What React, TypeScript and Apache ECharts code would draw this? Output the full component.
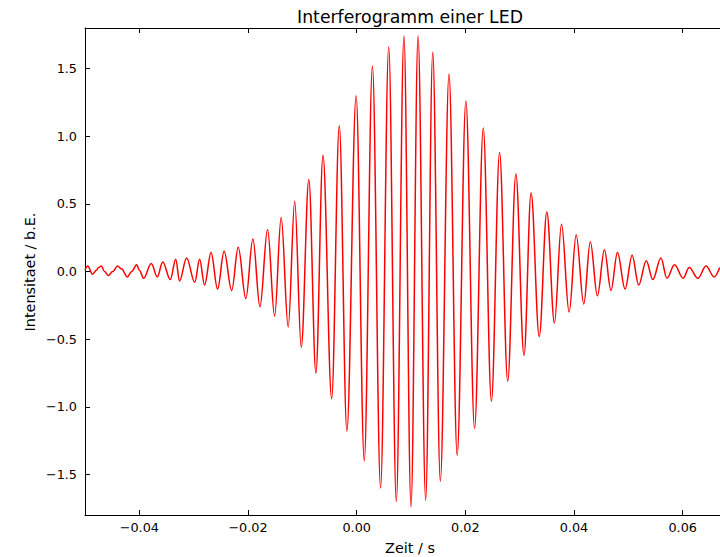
import React, { useEffect, useRef } from 'react';
import * as echarts from 'echarts';

// Zeit (s) of each turning point
const timeS = [
  -0.0500, -0.0495, -0.0486, -0.0479, -0.0475, -0.0470, -0.0464, -0.0457, -0.0449, -0.0440,
  -0.0433, -0.0422, -0.0414, -0.0405, -0.0400, -0.0392, -0.0378, -0.0367, -0.0357, -0.0343,
  -0.0333, -0.0326, -0.0313, -0.0298, -0.0289, -0.0280, -0.0268, -0.0256, -0.0244, -0.0230,
  -0.0218, -0.0204, -0.0191, -0.0178, -0.0164, -0.0151, -0.0139, -0.0126, -0.0114, -0.0102,
  -0.0088, -0.0075, -0.0062, -0.0046, -0.0032, -0.0018, -0.0001, 0.0014, 0.0029, 0.0044,
  0.0059, 0.0073, 0.0087, 0.0100, 0.0113, 0.0127, 0.0140, 0.0154, 0.0170, 0.0185,
  0.0201, 0.0217, 0.0233, 0.0248, 0.0263, 0.0278, 0.0293, 0.0308, 0.0321, 0.0336,
  0.0350, 0.0364, 0.0377, 0.0391, 0.0404, 0.0418, 0.0430, 0.0443, 0.0456, 0.0468,
  0.0480, 0.0494, 0.0507, 0.0519, 0.0533, 0.0545, 0.0560, 0.0571, 0.0585, 0.0601,
  0.0612, 0.0628, 0.0643, 0.0658, 0.0668,
];

// Intensitaet (b.E.) at those points
const intensity = [
  0.01, 0.04, -0.02, 0.01, 0.03, 0.04, 0.00, -0.03, 0.00, 0.04,
  0.02, -0.04, 0.00, 0.05, 0.01, -0.05, 0.06, -0.04, 0.07, -0.06,
  0.09, -0.07, 0.10, -0.08, 0.09, -0.10, 0.14, -0.13, 0.15, -0.14,
  0.18, -0.20, 0.24, -0.26, 0.31, -0.33, 0.40, -0.41, 0.52, -0.56,
  0.68, -0.75, 0.86, -0.94, 1.08, -1.18, 1.30, -1.40, 1.52, -1.60,
  1.66, -1.70, 1.74, -1.74, 1.74, -1.69, 1.62, -1.55, 1.46, -1.36,
  1.26, -1.16, 1.06, -0.96, 0.88, -0.81, 0.72, -0.62, 0.58, -0.48,
  0.44, -0.38, 0.35, -0.30, 0.27, -0.24, 0.22, -0.18, 0.16, -0.14,
  0.14, -0.13, 0.12, -0.10, 0.08, -0.06, 0.10, -0.05, 0.05, -0.05,
  0.03, -0.05, 0.04, -0.04, 0.03,
];

const xTicks = [-0.04, -0.02, 0, 0.02, 0.04, 0.06];
const yTicks = [-1.5, -1.0, -0.5, 0, 0.5, 1.0, 1.5];
const titleText = 'Interferogramm einer LED';
const xName = 'Zeit / s';
const yName = 'Intensitaet / b.E.';

const FONT = '"DejaVu Sans", sans-serif';

export default function App() {
  const ref = useRef<HTMLDivElement>(null);

  useEffect(() => {
    if (!ref.current) return;
    document.body.style.overflow = 'hidden';
    const chart = echarts.init(ref.current, null, { renderer: 'svg' });
    const fmt = (v: number, d: number) => (v < 0 ? '\u2212' : '') + Math.abs(v).toFixed(d);
    const data = timeS.map((t, i) => [t, intensity[i]]);

    const lineStyle = { color: '#000', width: 1 };
    const xBase = {
      type: 'value',
      min: -0.05,
      max: 0.07,
      splitLine: { show: false },
      axisLine: { show: true, onZero: false, lineStyle },
      axisTick: { show: true, inside: true, length: 5, customValues: xTicks, lineStyle },
    };
    const yBase = {
      type: 'value',
      min: -1.8,
      max: 1.8,
      splitLine: { show: false },
      axisLine: { show: true, onZero: false, lineStyle },
      axisTick: { show: true, inside: true, length: 5, customValues: yTicks, lineStyle },
    };

    chart.setOption({
      animation: false,
      backgroundColor: '#ffffff',
      grid: { left: 85, top: 28, width: 652, height: 487, containLabel: false },
      xAxis: [
        {
          ...xBase,
          position: 'bottom',
          axisLabel: {
            customValues: xTicks,
            formatter: (v: number) => fmt(v, 2),
            color: '#000',
            fontFamily: FONT,
            fontSize: 12.8,
            margin: 6,
          },
        },
        { ...xBase, position: 'top', axisLabel: { show: false } },
      ],
      yAxis: [
        {
          ...yBase,
          position: 'left',
          axisLabel: {
            customValues: yTicks,
            formatter: (v: number) => fmt(v, 1),
            color: '#000',
            fontFamily: FONT,
            fontSize: 12.8,
            margin: 8,
          },
        },
        { ...yBase, position: 'right', axisLabel: { show: false } },
      ],
      series: [
        {
          type: 'line',
          xAxisIndex: 0,
          yAxisIndex: 0,
          data,
          symbol: 'none',
          showSymbol: false,
          smooth: 0.36,
          smoothMonotone: 'x',
          clip: true,
          lineStyle: { color: '#ff0000', width: 1.5 },
        },
      ],
      graphic: [
        {
          type: 'text',
          x: 410,
          y: 17,
          style: {
            text: titleText,
            fill: '#000',
            font: `17.3px ${FONT}`,
            textAlign: 'center',
            textVerticalAlign: 'middle',
          },
        },
        {
          type: 'text',
          x: 410,
          y: 548,
          style: {
            text: xName,
            fill: '#000',
            font: `14.4px ${FONT}`,
            textAlign: 'center',
            textVerticalAlign: 'middle',
          },
        },
        {
          type: 'text',
          x: 30,
          y: 272,
          rotation: Math.PI / 2,
          style: {
            text: yName,
            fill: '#000',
            font: `14.4px ${FONT}`,
            textAlign: 'center',
            textVerticalAlign: 'middle',
          },
        },
      ],
    });

    return () => chart.dispose();
  }, []);

  return (
    <div
      ref={ref}
      style={{ position: 'fixed', left: 0, top: 0, width: 745, height: 557, background: '#fff' }}
    />
  );
}
